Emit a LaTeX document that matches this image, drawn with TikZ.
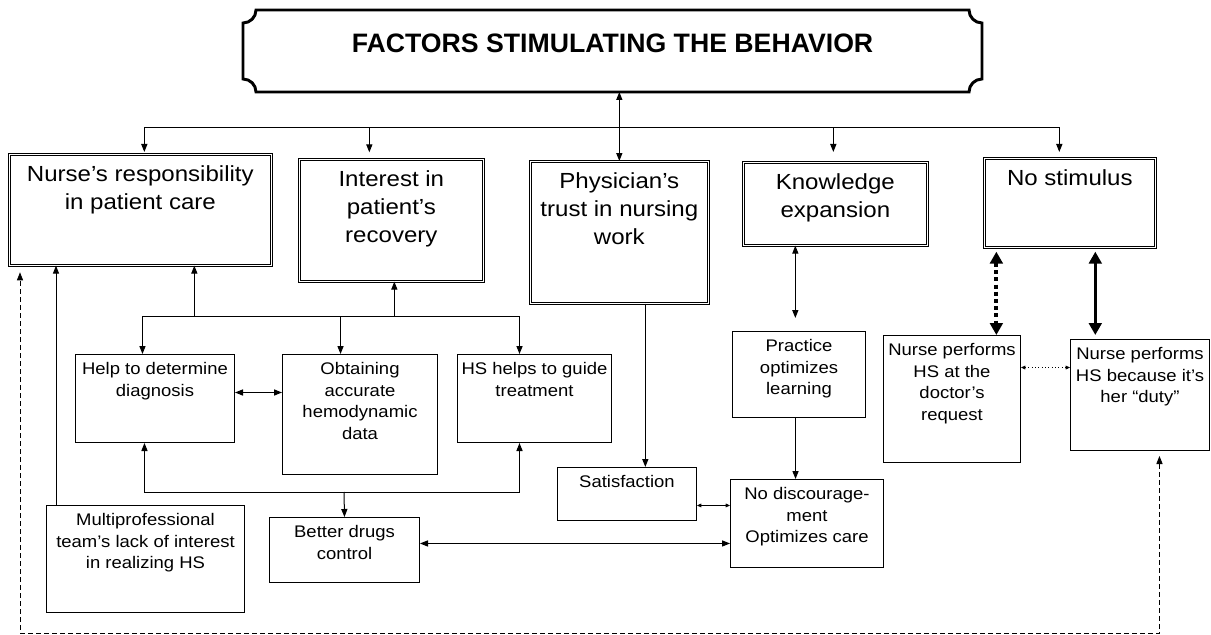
\documentclass[tikz,border=0pt]{standalone}
\usepackage{fontspec}
\setmainfont{Liberation Sans}
\newfontfamily\boxfont{Liberation Sans}[FakeStretch=1.1]
\usetikzlibrary{arrows.meta}

\tikzset{
  factor/.style={draw, double, line width=0.5pt, double distance=1.1pt, anchor=north west, inner sep=0pt},
  plainbox/.style={draw, line width=0.75pt, anchor=north west, inner sep=0pt},
  bigtxt/.style={anchor=north, inner sep=0pt, align=center, font=\boxfont\fontsize{16.4}{21}\selectfont},
  smalltxt/.style={anchor=north, inner sep=0pt, align=center, font=\boxfont\fontsize{12.6}{16.2}\selectfont},
  tinytip/.style={line width=0.5pt, >={Triangle[length=3.2pt,width=2.8pt]}},
  heavy/.style={line width=2.5pt, >={Triangle[length=9pt,width=9.5pt]}},
  loopline/.style={line width=0.6pt, dash pattern=on 3.75pt off 2.25pt},
}

% frame with its text at the top
\newcommand{\factorbox}[6]{%
  \node[factor, minimum width=#4*0.75pt, minimum height=#5*0.75pt] (#1) at (#2,#3) {};
  \node[bigtxt] (#1-txt) at ([yshift=-8.4pt]#1.north) {#6};
}
\newcommand{\reasonbox}[6]{%
  \node[plainbox, minimum width=#4*0.75pt, minimum height=#5*0.75pt] (#1) at (#2,#3) {};
  \node[smalltxt] (#1-txt) at ([yshift=-6pt]#1.north) {#6};
}

\begin{document}
\begin{tikzpicture}[x=0.75pt, y=-0.75pt, line width=0.75pt, >={Triangle[length=6pt,width=4.6pt]}]
\useasboundingbox (0,0) rectangle (1211,635);

% title
\node[minimum width=738*0.75pt, minimum height=81*0.75pt, anchor=north west, inner sep=0pt] (title) at (243,10) {};
\draw[line width=2.2pt]
  ([xshift=9.75pt]title.north west) -- ([xshift=-9.75pt]title.north east)
  arc[start angle=180, end angle=270, radius=9.75pt]
  -- ([yshift=9.75pt]title.south east)
  arc[start angle=90, end angle=180, radius=9.75pt]
  -- ([xshift=9.75pt]title.south west)
  arc[start angle=0, end angle=90, radius=9.75pt]
  -- ([yshift=-9.75pt]title.north west)
  arc[start angle=270, end angle=360, radius=9.75pt]
  -- cycle;
\node[font=\bfseries\fontsize{20}{24}\selectfont] (title-txt) at ([yshift=5.6pt]title.center) {FACTORS STIMULATING THE BEHAVIOR};

% factors
\factorbox{resp}{9}{154}{262}{111}{Nurse’s responsibility\\in patient care}
\factorbox{interest}{299}{159}{184}{122}{Interest in\\patient’s\\recovery}
\factorbox{trust}{530}{161}{178}{142}{Physician’s\\trust in nursing\\work}
\factorbox{knowledge}{743}{162}{184}{83}{Knowledge\\expansion}
\factorbox{nostim}{984}{158}{171}{89}{No stimulus}

% reasons
\reasonbox{diag}{75}{354}{159}{88}{Help to determine\\diagnosis}
\reasonbox{hemo}{282}{354}{155}{120}{Obtaining\\accurate\\hemodynamic\\data}
\reasonbox{guide}{457}{354}{154}{88}{HS helps to guide\\treatment}
\reasonbox{multi}{46}{505}{198}{107}{Multiprofessional\\team’s lack of interest\\in realizing HS}
\reasonbox{drugs}{269}{517}{150}{65}{Better drugs\\control}
\reasonbox{satisf}{557}{467}{139}{53}{Satisfaction}
\reasonbox{practice}{732}{331}{133}{86}{Practice\\optimizes\\learning}
\reasonbox{nodisc}{730}{479}{153}{88}{No discourage-\\ment\\Optimizes care}
\reasonbox{request}{883}{335}{137}{127}{Nurse performs\\HS at the\\doctor’s\\request}
\reasonbox{duty}{1070}{339}{139}{111}{Nurse performs\\HS because it’s\\her “duty”}

% title and top bus
\draw[<->] (trust.north |- title.south) -- (trust.north);
\coordinate (topbus) at (612,128);
\foreach \n/\dx/\sh in {resp/3pt/1.5pt, interest/-16.5pt/5pt, knowledge/-1.5pt/7.5pt, nostim/-7.9pt/4.5pt}
  \draw[->, shorten >=\sh] (topbus) -| ([xshift=\dx]\n.north);

% middle bus
\coordinate (midbus) at (340,316);
\draw[->] (midbus) -| ([xshift=40.5pt]resp.south);
\draw[->] (midbus) -| ([xshift=2.25pt]interest.south);
\foreach \n/\dx in {diag/-9.4pt, hemo/-14.6pt, guide/-11.25pt}
  \draw[->] (midbus) -| ([xshift=\dx]\n.north);

\draw[<->] ([yshift=4.5pt]diag.east) -- ([yshift=4.5pt]diag.east -| hemo.west);

% lower bus
\coordinate (lowbus) at (344,492);
\draw[->] (lowbus) -- (drugs.north);
\draw[->] (lowbus) -| ([xshift=-7.9pt]diag.south);
\draw[->] (lowbus) -| ([xshift=-11.25pt]guide.south);

\draw[->] ([xshift=7.5pt]multi.north west) -- ([xshift=7.5pt]multi.north west |- resp.south);
\draw[<->] ([yshift=4.9pt]drugs.east) -- ([yshift=4.9pt]drugs.east -| nodisc.west);
\draw[<->, tinytip] ([yshift=-8.6pt]satisf.east) -- ([yshift=-8.6pt]satisf.east -| nodisc.west);
\draw[->] ([xshift=19.5pt]trust.south) -- ([xshift=19.5pt]trust.south |- satisf.north);
\draw[<->, shorten >=9.75pt] ([xshift=-30pt]knowledge.south) -- ([xshift=-30pt]knowledge.south |- practice.north);
\draw[->] ([xshift=-2.6pt]practice.south) -- ([xshift=-2.6pt]practice.south |- nodisc.north);

% no stimulus
\draw[<->, heavy, line width=3pt, dash pattern=on 3pt off 2.4pt, shorten <=3pt] ([xshift=-55.1pt]nostim.south) -- ([xshift=-55.1pt]nostim.south |- request.north);
\draw[<->, heavy, shorten <=3pt, shorten >=3pt] ([xshift=19.1pt]nostim.south) -- ([xshift=19.1pt]nostim.south |- duty.north);
\draw[<->, tinytip, dotted] ([yshift=23.6pt]request.east) -- ([yshift=23.6pt]request.east -| duty.west);

% dashed loop
\coordinate (loop) at (20,633);
\draw[<->, loopline, shorten <=3.75pt, shorten >=5pt] ([xshift=14.6pt]duty.south) |- (loop) -- (loop |- resp.south);

\end{tikzpicture}
\end{document}
